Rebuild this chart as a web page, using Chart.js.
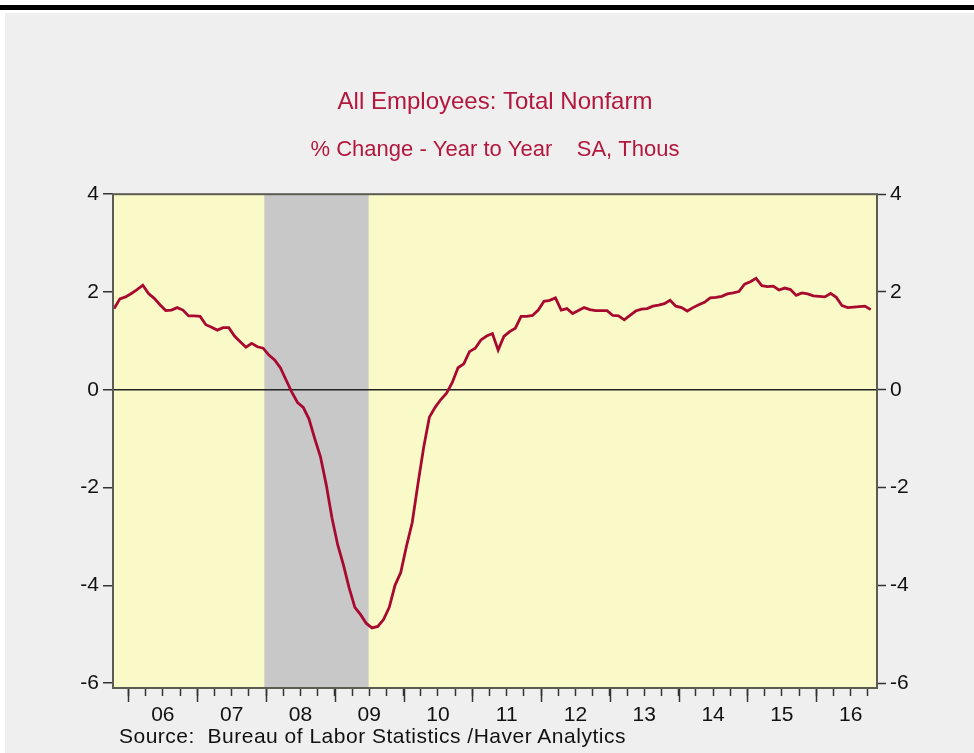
<!DOCTYPE html>
<html>
<head>
<meta charset="utf-8">
<title>All Employees: Total Nonfarm</title>
<script src="https://cdn.jsdelivr.net/npm/chart.js@4.4.0/dist/chart.umd.min.js"></script>
<style>
    body { margin: 0; background: #ffffff; width: 974px; height: 753px; overflow: hidden; position: relative; }
    #topBar { position: absolute; left: 0; top: 5px; width: 974px; height: 5px; background: #000; }
    #panel { position: absolute; left: 5px; top: 13px; width: 969px; height: 740px; background: #efefef; }
    #chart { position: absolute; left: 0; top: 0; }
    #source {
        position: absolute; left: 119px; top: 724px;
        font-family: 'Liberation Sans', Arial, sans-serif; font-size: 21px;
        letter-spacing: 0.5px; color: #111; white-space: pre; line-height: 24px;
    }
</style>
</head>
<body>
<div id="topBar"></div>
<div id="panel"></div>
<canvas id="chart" width="974" height="753"></canvas>
<div id="source">Source:  Bureau of Labor Statistics /Haver Analytics</div>

<script>
// 月度数据：2005年10月 ~ 2016年10月，同比变化 (%)
const firstYear = 2005;
const firstMonth = 10;
const yoyChange = [
    1.66, 1.86, 1.90,                                                       // 2005 Oct-Dec
    1.97, 2.05, 2.14, 1.97, 1.87, 1.74, 1.62, 1.63, 1.68, 1.63, 1.51, 1.51, // 2006
    1.50, 1.33, 1.28, 1.22, 1.27, 1.27, 1.10, 0.98, 0.87, 0.95, 0.88, 0.85, // 2007
    0.71, 0.61, 0.45, 0.20, -0.05, -0.26, -0.36, -0.60, -1.00, -1.37, -1.94, -2.62, // 2008
    -3.17, -3.58, -4.05, -4.45, -4.60, -4.78, -4.87, -4.84, -4.70, -4.45, -4.00, -3.74, // 2009
    -3.20, -2.72, -1.93, -1.18, -0.56, -0.36, -0.20, -0.07, 0.15, 0.45, 0.53, 0.78, // 2010
    0.85, 1.02, 1.10, 1.15, 0.81, 1.09, 1.19, 1.26, 1.50, 1.50, 1.52, 1.63, // 2011
    1.81, 1.83, 1.88, 1.63, 1.66, 1.56, 1.62, 1.68, 1.64, 1.62, 1.62, 1.62, // 2012
    1.52, 1.51, 1.43, 1.52, 1.61, 1.65, 1.66, 1.71, 1.73, 1.76, 1.83, 1.71, // 2013
    1.68, 1.61, 1.68, 1.74, 1.79, 1.88, 1.89, 1.91, 1.96, 1.98, 2.01, 2.16, // 2014
    2.21, 2.28, 2.13, 2.11, 2.12, 2.04, 2.08, 2.05, 1.93, 1.98, 1.96, 1.92, // 2015
    1.91, 1.90, 1.97, 1.89, 1.72, 1.68, 1.69, 1.70, 1.71, 1.64              // 2016 Jan-Oct
];

// 坐标轴刻度
const yTicks = [-6, -4, -2, 0, 2, 4];
const yearLabels = ['06', '07', '08', '09', '10', '11', '12', '13', '14', '15', '16'];

// 经济衰退区间（以2005年10月为0的月份序号）
const recessionStart = 26.7;
const recessionEnd = 44.9;

// 颜色与字体
const TITLE_COLOR = '#b3173d';
const LINE_COLOR = '#a8092f';
const PLOT_BG = '#fafac9';
const RECESSION_BG = '#c8c8c8';
const FONT_FAMILY = "'Liberation Sans', Arial, sans-serif";

// 每个数据点放在月份中间
const points = yoyChange.map((v, i) => ({ x: i + 0.5, y: v }));

// 季度刻度（1月、4月、7月、10月）
const quarterTicks = [];
for (let m = 3; m <= 132; m += 3) quarterTicks.push(m);
const yearTicks = quarterTicks.filter(m => (m - 3) % 12 === 0);

// 背景、衰退阴影、边框和年度长刻度
const plotDecor = {
    id: 'plotDecor',
    beforeDraw(chart) {
        const { ctx, chartArea, scales } = chart;
        ctx.save();
        ctx.fillStyle = PLOT_BG;
        ctx.fillRect(chartArea.left, chartArea.top, chartArea.width, chartArea.height);
        const x1 = scales.x.getPixelForValue(recessionStart);
        const x2 = scales.x.getPixelForValue(recessionEnd);
        ctx.fillStyle = RECESSION_BG;
        ctx.fillRect(x1, chartArea.top, x2 - x1, chartArea.height);
        ctx.restore();
    },
    afterDraw(chart) {
        const { ctx, chartArea, scales } = chart;
        ctx.save();
        ctx.strokeStyle = '#333';
        ctx.lineWidth = 1.5;
        yearTicks.forEach(m => {
            const x = Math.round(scales.x.getPixelForValue(m)) + 0.5;
            ctx.beginPath();
            ctx.moveTo(x, chartArea.bottom);
            ctx.lineTo(x, chartArea.bottom + 14);
            ctx.stroke();
        });
        ctx.strokeStyle = '#5c5c52';
        ctx.lineWidth = 2;
        ctx.strokeRect(chartArea.left, chartArea.top, chartArea.width, chartArea.height);
        ctx.restore();
    }
};

const tickFont = { family: FONT_FAMILY, size: 21 };

const ctx = document.getElementById('chart').getContext('2d');
new Chart(ctx, {
    type: 'line',
    data: {
        datasets: [{
            data: points,
            borderColor: LINE_COLOR,
            borderWidth: 2.8,
            pointRadius: 0,
            tension: 0,
            fill: false
        }]
    },
    options: {
        responsive: false,
        animation: false,
        layout: { padding: { left: 63, right: 47, top: 13, bottom: 25 } },
        plugins: {
            legend: { display: false },
            tooltip: { enabled: false },
            title: {
                display: true,
                text: 'All Employees: Total Nonfarm',
                color: TITLE_COLOR,
                font: { family: FONT_FAMILY, size: 24, weight: 'normal' },
                padding: { top: 75, bottom: 10 }
            },
            subtitle: {
                display: true,
                text: '% Change - Year to Year    SA, Thous',
                color: TITLE_COLOR,
                font: { family: FONT_FAMILY, size: 22, weight: 'normal' },
                padding: { top: 10, bottom: 31 }
            }
        },
        scales: {
            x: {
                type: 'linear',
                min: 0.3,
                max: 133.6,
                afterBuildTicks: scale => { scale.ticks = quarterTicks.map(v => ({ value: v })); },
                afterFit: scale => { scale.height = 40; },
                ticks: {
                    autoSkip: false,
                    maxRotation: 0,
                    color: '#111',
                    font: tickFont,
                    padding: 7,
                    callback: v => ((v - 9) % 12 === 0 ? yearLabels[(v - 9) / 12] : '')
                },
                grid: { drawOnChartArea: false, tickLength: 8, tickColor: '#333', tickWidth: 1.5 },
                border: { display: false }
            },
            y: {
                position: 'left',
                min: -6.1,
                max: 4,
                afterBuildTicks: scale => { scale.ticks = yTicks.map(v => ({ value: v })); },
                afterFit: scale => { scale.width = 50; },
                ticks: { color: '#111', font: tickFont, padding: 4 },
                grid: {
                    color: c => (c.tick && c.tick.value === 0 ? '#222' : 'rgba(0,0,0,0)'),
                    lineWidth: 1.5,
                    tickLength: 10,
                    tickColor: '#333',
                    tickWidth: 1.5
                },
                border: { display: false }
            },
            y2: {
                position: 'right',
                min: -6.1,
                max: 4,
                afterBuildTicks: scale => { scale.ticks = yTicks.map(v => ({ value: v })); },
                afterFit: scale => { scale.width = 50; },
                ticks: { color: '#111', font: tickFont, padding: 4 },
                grid: { drawOnChartArea: false, tickLength: 9, tickColor: '#333', tickWidth: 1.5 },
                border: { display: false }
            }
        }
    },
    plugins: [plotDecor]
});
</script>
</body>
</html>
